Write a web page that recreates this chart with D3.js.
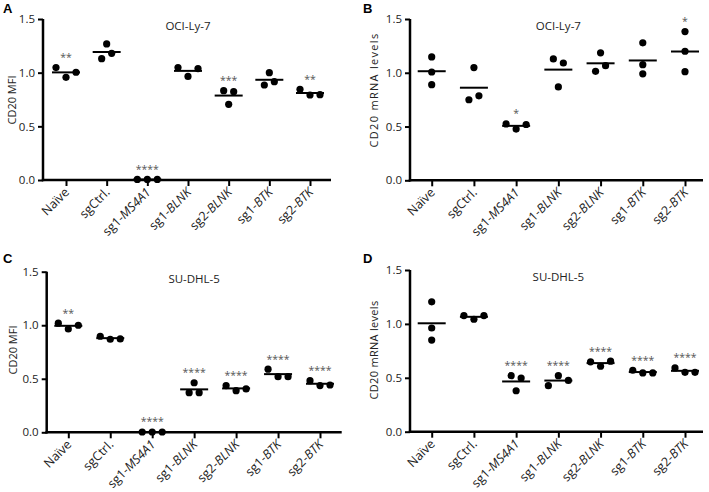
<!DOCTYPE html>
<html><head><meta charset="utf-8">
<script src="https://cdn.jsdelivr.net/npm/d3@7"></script>
<style>
html,body{margin:0;padding:0;background:#fff;}
svg{display:block;font-family:"Open Sans",sans-serif;}
</style></head>
<body>
<svg id="chart" width="709" height="492"></svg>
<script>
// ---- data ----
const categories = ["Naïve","sgCtrl.","sg1-MS4A1","sg1-BLNK","sg2-BLNK","sg1-BTK","sg2-BTK"];
const yTicks = [0, 0.5, 1.0, 1.5];

// Panel A: OCI-Ly-7, CD20 MFI
const valuesA = [
  [1.047, 0.957, 1.004],
  [1.268, 1.13, 1.18],
  [0.005, 0.005, 0.005],
  [1.047, 0.965, 1.038],
  [0.832, 0.705, 0.823],
  [1.0, 0.885, 0.916],
  [0.845, 0.792, 0.795]
];
const sigA = ["**", "", "****", "", "***", "", "**"];

// Panel B: OCI-Ly-7, CD20 mRNA levels
const valuesB = [
  [1.147, 1.007, 0.889],
  [1.048, 0.749, 0.786],
  [0.524, 0.476, 0.519],
  [1.129, 0.868, 1.091],
  [1.185, 1.013, 1.066],
  [1.278, 1.075, 0.99],
  [1.383, 1.2, 1.01]
];
const sigB = ["", "", "*", "", "", "", "*"];

// Panel C: SU-DHL-5, CD20 MFI
const valuesC = [
  [1.019, 0.965, 1.0],
  [0.897, 0.869, 0.872],
  [0.003, 0.003, 0.003],
  [0.463, 0.37, 0.37],
  [0.436, 0.389, 0.405],
  [0.59, 0.52, 0.52],
  [0.482, 0.436, 0.442]
];
const sigC = ["**", "", "****", "****", "****", "****", "****"];

// Panel D: SU-DHL-5, CD20 mRNA levels
const valuesD = [
  [1.205, 0.962, 0.85],
  [1.077, 1.043, 1.077],
  [0.52, 0.38, 0.498],
  [0.427, 0.52, 0.476],
  [0.648, 0.607, 0.654],
  [0.57, 0.545, 0.545],
  [0.592, 0.551, 0.551]
];
const sigD = ["", "", "****", "****", "****", "****", "****"];

const panels = [
  {letter:"A", title:"OCI-Ly-7", ylabel:"CD20 MFI", values:valuesA, sig:sigA,
   axL:43, axR:331, x0:66, x1:310, yTop:19, yBot:180, lx:16, ly:100, ls:0, lsize:11, letX:3, letY:13},
  {letter:"B", title:"OCI-Ly-7", ylabel:"CD20 mRNA levels", values:valuesB, sig:sigB,
   axL:410, axR:703, x0:431.7, x1:685, yTop:19, yBot:180.3, lx:378, ly:90, ls:1.3, lsize:11, letX:363, letY:13},
  {letter:"C", title:"SU-DHL-5", ylabel:"CD20 MFI", values:valuesC, sig:sigC,
   axL:46.7, axR:341.7, x0:68.3, x1:320, yTop:271.7, yBot:432.3, lx:17, ly:350, ls:0, lsize:11, letX:3, letY:263},
  {letter:"D", title:"SU-DHL-5", ylabel:"CD20 mRNA levels", values:valuesD, sig:sigD,
   axL:410, axR:703, x0:431.7, x1:685, yTop:270, yBot:431.7, lx:378, ly:350, ls:0.3, lsize:11, letX:363, letY:263}
];

const svg = d3.select("#chart");
const R = 3.6, STEP = 10, THRESH = 8;

panels.forEach(p => {
  const g = svg.append("g");
  const x = d3.scalePoint().domain(categories).range([p.x0, p.x1]);
  const y = d3.scaleLinear().domain([0, 1.5]).range([p.yBot, p.yTop]);

  // y axis
  const ya = g.append("g").attr("transform", `translate(${p.axL},0)`)
    .call(d3.axisLeft(y).tickValues(yTicks).tickFormat(d3.format(".1f")).tickSize(5).tickPadding(3));
  ya.select(".domain").remove();
  ya.selectAll(".tick line").attr("stroke", "#000").attr("stroke-width", 2);
  ya.selectAll(".tick text").attr("font-size", 11.5).attr("fill", "#222").attr("font-family", "Open Sans");

  // x axis
  const xa = g.append("g").attr("transform", `translate(0,${p.yBot})`)
    .call(d3.axisBottom(x).tickSize(6).tickFormat(""));
  xa.select(".domain").remove();
  xa.selectAll(".tick line").attr("stroke", "#000").attr("stroke-width", 2);

  // axis lines
  g.append("line").attr("x1", p.axL).attr("x2", p.axL).attr("y1", y(1.5)).attr("y2", p.yBot + 1.2)
    .attr("stroke", "#000").attr("stroke-width", 2.5);
  g.append("line").attr("x1", p.axL - 1.2).attr("x2", p.axR).attr("y1", p.yBot).attr("y2", p.yBot)
    .attr("stroke", "#000").attr("stroke-width", 2.5);

  // rotated category labels with italic gene names
  categories.forEach(c => {
    const t = g.append("text")
      .attr("transform", `translate(${x(c) + 4},${p.yBot + 13}) rotate(-45)`)
      .attr("text-anchor", "end").attr("font-size", 12.5).attr("fill", "#222");
    const i = c.indexOf("-");
    if (i < 0) { t.text(c); }
    else {
      t.append("tspan").text(c.slice(0, i + 1));
      t.append("tspan").attr("font-style", "italic").text(c.slice(i + 1));
    }
  });

  // panel title
  g.append("text").attr("x", (p.x0 + p.x1) / 2).attr("y", y(1.5) + 11)
    .attr("text-anchor", "middle").attr("font-size", 11.5).attr("fill", "#222").text(p.title);

  // y label
  g.append("text").attr("transform", `translate(${p.lx},${p.ly}) rotate(-90)`)
    .attr("text-anchor", "middle").attr("font-size", p.lsize).attr("letter-spacing", p.ls)
    .attr("fill", "#222").text(p.ylabel);

  // panel letter
  g.append("text").attr("x", p.letX).attr("y", p.letY)
    .attr("font-family", "Liberation Sans").attr("font-weight", "bold").attr("font-size", 13)
    .text(p.letter);

  // points with prism-like horizontal spreading
  categories.forEach((c, ci) => {
    const vals = p.values[ci];
    const py = vals.map(v => y(v));
    const order = d3.range(vals.length).sort((a, b) => py[a] - py[b]);
    const clusters = [];
    let cur = [order[0]];
    for (let k = 1; k < order.length; k++) {
      if (py[order[k]] - py[order[k - 1]] < THRESH) cur.push(order[k]);
      else { clusters.push(cur); cur = [order[k]]; }
    }
    clusters.push(cur);
    const off = new Array(vals.length).fill(0);
    clusters.forEach(cl => {
      cl.sort((a, b) => a - b);
      cl.forEach((idx, r) => { off[idx] = (r - (cl.length - 1) / 2) * STEP; });
    });
    const cx = x(c);
    const m = d3.mean(vals);
    g.append("line").attr("x1", cx - 14).attr("x2", cx + 14).attr("y1", y(m)).attr("y2", y(m))
      .attr("stroke", "#000").attr("stroke-width", 2);
    g.selectAll(null).data(vals).enter().append("circle")
      .attr("cx", (d, i) => cx + off[i]).attr("cy", d => y(d)).attr("r", R).attr("fill", "#000");
    if (p.sig[ci]) {
      g.append("text").attr("x", cx).attr("y", y(d3.max(vals)) - 6.5)
        .attr("text-anchor", "middle").attr("font-size", 10.5).attr("fill", "#555")
        .text(p.sig[ci]);
    }
  });
});
</script>
</body></html>
